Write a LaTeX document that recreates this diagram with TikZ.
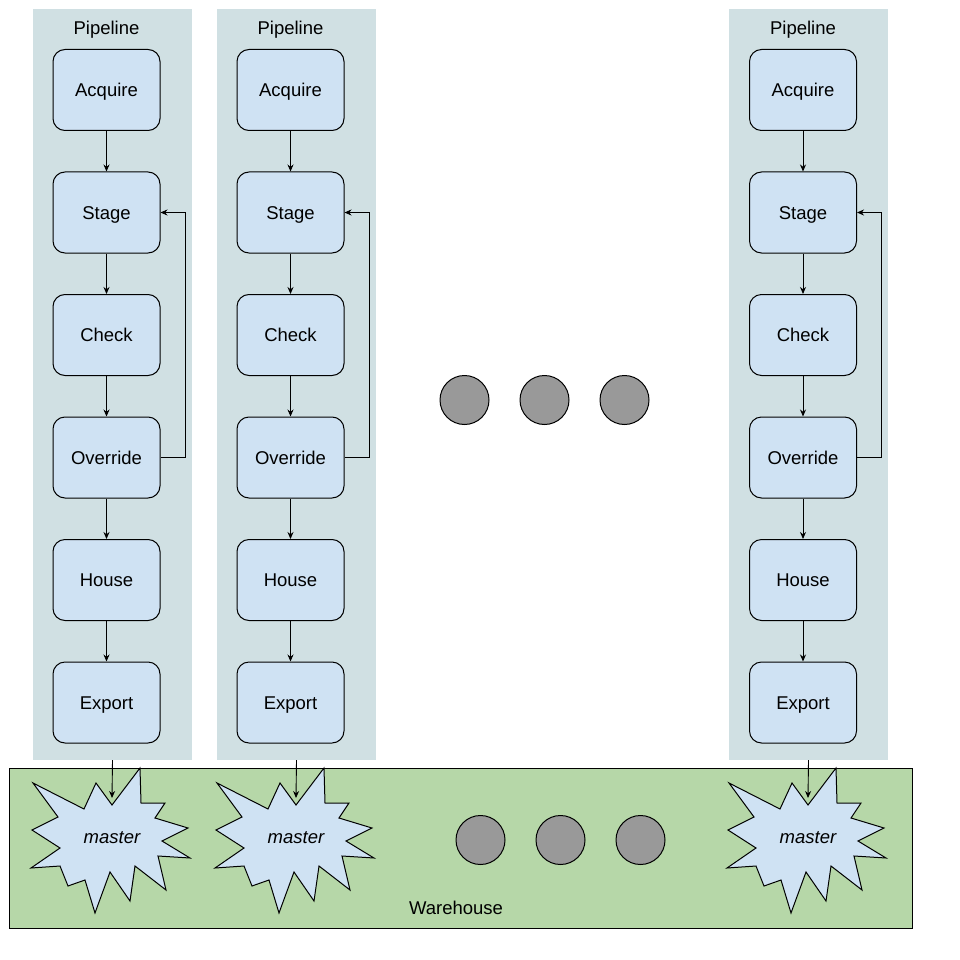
\documentclass[tikz,border=0pt]{standalone}
\usepackage{fontspec}
\setmainfont{Liberation Sans}
\usetikzlibrary{arrows.meta}
\definecolor{colbg}{HTML}{D0E0E3}
\definecolor{boxbg}{HTML}{CFE2F3}
\definecolor{whbg}{HTML}{B6D7A8}
\definecolor{dotbg}{HTML}{999999}
\tikzset{
  txt/.style={font=\fontsize{18.5}{22}\selectfont, text height=13.3pt, text depth=0pt},
  lbl/.style={txt, inner sep=0pt},
  colrect/.style={fill=colbg, draw=none},
  stepbox/.style={txt, draw=black, fill=boxbg, line width=1pt, rounded corners=12pt,
    minimum width=107pt, minimum height=81pt, inner sep=0pt},
  arr/.style={draw=black, line width=0.9pt, -{Stealth[length=7pt,width=6pt]}},
  dot/.style={circle, draw=black, line width=1pt, fill=dotbg, minimum size=49pt, inner sep=0pt},
  starshape/.style={draw=black, fill=boxbg, line width=1pt, line join=miter},
}
\newcommand{\masterstar}{%
  (28,-72) -- (29,-37) -- (53,-37) -- (43,-22) -- (76,-12) -- (50,1) -- (78,18) -- (46,16) --
  (54,50) -- (23,26) -- (18,61) -- (-2,32) -- (-17,73) -- (-27,40) -- (-44,46) -- (-52,26) --
  (-81,28) -- (-52,8) -- (-80,-10) -- (-54,-23) -- (-79,-57) -- (-28,-31) -- (-16,-57) -- (0,-35) -- cycle}
\begin{document}
\begin{tikzpicture}[x=1pt,y=-1pt]
\useasboundingbox (0,0) rectangle (960,960);
\fill[white] (0,0) rectangle (960,960);

% pipeline columns
\foreach \i/\cx/\bx/\fx in {1/112.5/106.5/185, 2/296.5/290.5/369, 3/808.5/803/881}{
  \node[colrect, minimum width=159pt, minimum height=751pt, inner sep=0pt] (p\i) at (\cx,384.5) {};
  \node[lbl] (pl\i) at (\bx,28) {Pipeline};
  \node[stepbox] (a\i) at (\bx,90) {Acquire};
  \node[stepbox] (s\i) at (\bx,212.5) {Stage};
  \node[stepbox] (c\i) at (\bx,335) {Check};
  \node[stepbox] (o\i) at (\bx,457.5) {Override};
  \node[stepbox] (h\i) at (\bx,580) {House};
  \node[stepbox] (e\i) at (\bx,702.5) {Export};
  \draw[arr] (a\i) -- (s\i);
  \draw[arr] (s\i) -- (c\i);
  \draw[arr] (c\i) -- (o\i);
  \draw[arr] (o\i) -- (h\i);
  \draw[arr] (h\i) -- (e\i);
  \draw[arr] (o\i.east) -- (\fx,457.5) |- (s\i.east);
}

% middle dots
\node[dot] (d1) at (464.5,400) {};
\node[dot] (d2) at (544.5,400) {};
\node[dot] (d3) at (624.5,400) {};

% warehouse
\node[draw=black, fill=whbg, line width=1pt, minimum width=903pt, minimum height=160pt, inner sep=0pt] (wh) at (460.5,848) {};
\node[lbl] (whl) at (456,908) {Warehouse};

% stars
\foreach \i/\sx in {1/112, 2/296, 3/808}{
  \begin{scope}[shift={(\sx,840)}]
    \draw[starshape] \masterstar;
  \end{scope}
  \node[lbl, font=\fontsize{18.5}{22}\selectfont\itshape] (m\i) at (\sx,837) {master};
  \coordinate (mt\i) at (\sx,798);
  \draw[arr] (p\i.south) -- (mt\i);
}

% warehouse dots
\node[dot] (w1) at (480.5,840) {};
\node[dot] (w2) at (560.5,840) {};
\node[dot] (w3) at (640.5,840) {};
\end{tikzpicture}
\end{document}
